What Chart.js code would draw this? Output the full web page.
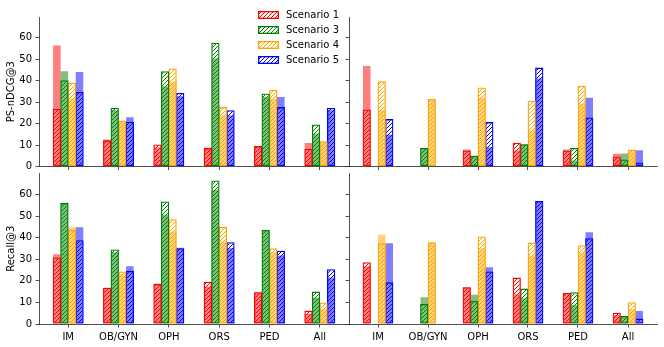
<!DOCTYPE html>
<html lang="en">
<head>
<meta charset="UTF-8">
<title>PS-nDCG@3 / Recall@3 by specialty</title>
<script src="https://cdn.jsdelivr.net/npm/chart.js@4/dist/chart.umd.min.js"></script>
<style>
  body { margin: 0; background: #fff; width: 664px; height: 347px; overflow: hidden; position: relative; font-family: 'DejaVu Sans', sans-serif; }
  canvas { position: absolute; }
  .lg-text { position: absolute; font-size: 10px; line-height: 12px; color: #000; white-space: nowrap; }
</style>
</head>
<body>
<canvas id="tl" width="360" height="177" style="left:0;top:0"></canvas>
<canvas id="tr" width="325" height="177" style="left:339px;top:0"></canvas>
<canvas id="bl" width="360" height="190" style="left:0;top:157px"></canvas>
<canvas id="br" width="325" height="190" style="left:339px;top:157px"></canvas>
<div id="legend"></div>
<script>
const categories = ['IM', 'OB/GYN', 'OPH', 'ORS', 'PED', 'All'];
const scenarios = ['Scenario 1', 'Scenario 3', 'Scenario 4', 'Scenario 5'];
const colors = ['#ff0000', '#008000', '#ffa500', '#0000ff'];
const fills = ['rgba(255,0,0,0.5)', 'rgba(0,128,0,0.5)', 'rgba(255,165,0,0.5)', 'rgba(0,0,255,0.5)'];
const yTicks = [0, 10, 20, 30, 40, 50, 60];
const yMax = 69.7;

// light bars (filled) and hatched bars, one row per scenario (1, 3, 4, 5)
const ndcgLeftFill = [
  [56.4, 12.6, 8.8, 8.7, 9.5, 10.9],
  [44.4, 26.2, 37.4, 50.3, 32.4, 15.3],
  [31.6, 21.2, 39.4, 23.8, 31.6, 11.5],
  [44.1, 23.0, 32.7, 23.8, 32.4, 26.2]
];
const ndcgLeftHatch = [
  [26.8, 12.2, 10.3, 8.7, 9.5, 8.3],
  [40.2, 27.4, 44.4, 57.7, 34.0, 19.6],
  [39.1, 21.5, 45.7, 27.7, 35.8, 11.8],
  [34.7, 20.9, 34.3, 26.2, 27.7, 27.3]
];
const ndcgRightFill = [
  [46.9, null, 7.9, 7.5, 7.9, 5.9],
  [null, 8.5, 5.0, 10.4, 2.8, 6.1],
  [26.5, 31.3, 32.1, 16.8, 29.3, 7.8],
  [14.8, null, 9.0, 41.0, 32.1, 7.6]
];
const ndcgRightHatch = [
  [26.6, null, 7.5, 11.1, 7.5, 4.7],
  [null, 8.6, 5.0, 10.4, 8.6, 3.3],
  [39.7, 31.5, 36.8, 30.7, 37.7, 7.8],
  [22.1, null, 20.7, 46.1, 22.9, 1.9]
];
const recallLeftFill = [
  [32.3, 16.8, 18.6, 17.3, 14.7, 4.6],
  [56.2, 33.2, 50.6, 62.2, 43.4, 12.2],
  [44.8, 23.0, 42.8, 38.2, 33.2, 7.0],
  [44.8, 26.8, 35.3, 35.1, 31.7, 21.5]
];
const recallLeftHatch = [
  [30.8, 16.8, 18.6, 19.6, 14.7, 6.2],
  [56.0, 34.5, 56.7, 66.5, 43.6, 15.0],
  [43.6, 24.3, 48.5, 45.0, 35.1, 10.0],
  [38.8, 24.6, 35.1, 37.9, 33.9, 25.4]
];
const recallRightFill = [
  [26.6, null, 17.0, 13.8, 14.4, 4.2],
  [null, 12.4, 13.5, 11.9, 8.8, 3.7],
  [41.3, 37.7, 35.1, 31.7, 32.8, 6.8],
  [37.4, null, 26.3, 57.0, 42.5, 6.0]
];
const recallRightHatch = [
  [28.6, null, 17.0, 21.5, 14.4, 5.2],
  [null, 9.3, 10.7, 16.4, 14.7, 3.7],
  [37.4, 37.9, 40.5, 37.7, 36.5, 10.1],
  [19.3, null, 24.3, 57.0, 39.7, 2.5]
];

Chart.defaults.font.family = "'DejaVu Sans', sans-serif";
Chart.defaults.font.size = 10;
Chart.defaults.color = '#000';

function hatch(color) {
  const c = document.createElement('canvas');
  c.width = c.height = 4;
  const g = c.getContext('2d');
  g.strokeStyle = color;
  g.lineWidth = 1;
  g.beginPath();
  g.moveTo(0, 4); g.lineTo(4, 0);
  g.moveTo(-1, 1); g.lineTo(1, -1);
  g.moveTo(3, 5); g.lineTo(5, 3);
  g.stroke();
  return g.createPattern(c, 'repeat');
}
const patterns = colors.map(hatch);

const toXY = (arr) => arr.map((v, i) => ({ x: i, y: v }));

const axisColor = '#222';

function makePanel(id, fill, hat, o) {
  const datasets = [];
  scenarios.forEach((name, k) => {
    datasets.push({
      label: name, data: toXY(hat[k]), stack: 's' + k, order: 0,
      backgroundColor: patterns[k], borderColor: colors[k], borderWidth: 1.3,
      borderSkipped: false, barPercentage: 1.1
    });
    datasets.push({
      label: name + ' (filled)', data: toXY(fill[k]), stack: 's' + k, order: 1,
      backgroundColor: fills[k], borderWidth: 0, barPercentage: 1.0
    });
  });

  new Chart(document.getElementById(id), {
    type: 'bar',
    data: { datasets },
    options: {
      responsive: false,
      animation: false,
      events: [],
      categoryPercentage: 0.6,
      layout: { padding: o.padding },
      plugins: { legend: { display: false }, tooltip: { enabled: false } },
      scales: {
        x: {
          type: 'linear', stacked: true, offset: false,
          min: -0.58, max: 5.58,
          afterBuildTicks: (s) => { s.ticks = categories.map((_, i) => ({ value: i })); },
          afterFit: (s) => { s.height = o.xH; },
          ticks: { display: o.xLabels, padding: 3.5, maxRotation: 0, autoSkip: false,
                   callback: (v) => categories[v] },
          grid: { offset: false, drawOnChartArea: false, drawTicks: true, tickLength: 3.5,
                  color: axisColor, lineWidth: 0.8 },
          border: { display: true, color: axisColor, width: 0.8 }
        },
        y: {
          stacked: false, min: 0, max: yMax,
          afterBuildTicks: (s) => { s.ticks = yTicks.map((v) => ({ value: v })); },
          afterFit: (s) => { s.width = o.yW; },
          ticks: { display: o.yLabels, padding: 3.5 },
          grid: { drawOnChartArea: false, drawTicks: true, tickLength: 3.5,
                  color: axisColor, lineWidth: 0.8 },
          border: { display: true, color: axisColor, width: 0.8 },
          title: { display: !!o.title, text: o.title, padding: { top: 5.5, bottom: 0 },
                   font: { size: 10 } }
        }
      }
    }
  });
}

makePanel('tl', ndcgLeftFill, ndcgLeftHatch,
  { padding: { top: 17, right: 11, bottom: 0, left: 0 }, yW: 39, xH: 10.5, xLabels: false, yLabels: true, title: 'PS-nDCG@3' });
makePanel('tr', ndcgRightFill, ndcgRightHatch,
  { padding: { top: 17, right: 7, bottom: 0, left: 0 }, yW: 10, xH: 10.5, xLabels: false, yLabels: false });
makePanel('bl', recallLeftFill, recallLeftHatch,
  { padding: { top: 16.5, right: 11, bottom: 0, left: 0 }, yW: 39, xH: 23, xLabels: true, yLabels: true, title: 'Recall@3' });
makePanel('br', recallRightFill, recallRightHatch,
  { padding: { top: 16.5, right: 7, bottom: 0, left: 0 }, yW: 10, xH: 23, xLabels: true, yLabels: false });

// legend drawn as html on top of the upper-left panel
const legend = document.getElementById('legend');
const rowY = [15.1, 30, 44.9, 59.8];
scenarios.forEach((name, k) => {
  const sw = document.createElement('canvas');
  sw.width = 21; sw.height = 8;
  sw.style.left = '258px';
  sw.style.top = (rowY[k] - 4) + 'px';
  const g = sw.getContext('2d');
  g.fillStyle = patterns[k];
  g.fillRect(0, 0, 21, 8);
  g.strokeStyle = colors[k];
  g.lineWidth = 1.3;
  g.strokeRect(0.65, 0.65, 19.7, 6.7);
  legend.appendChild(sw);
  const t = document.createElement('div');
  t.className = 'lg-text';
  t.style.left = '286px';
  t.style.top = (rowY[k] - 6) + 'px';
  t.textContent = name;
  legend.appendChild(t);
});
</script>
</body>
</html>
